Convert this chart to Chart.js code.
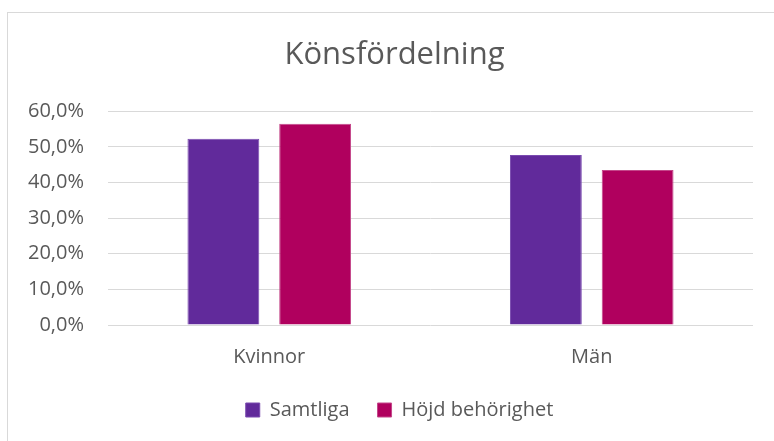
<!DOCTYPE html>
<html>
<head>
<meta charset="utf-8">
<script src="https://cdn.jsdelivr.net/npm/chart.js@4/dist/chart.umd.min.js"></script>
<style>
  html, body { margin: 0; padding: 0; background: #fff; }
  #wrap { position: relative; width: 774px; height: 441px; }
</style>
</head>
<body>
<div id="wrap"><canvas id="c" width="774" height="441"></canvas></div>
<script>
const categories = ['Kvinnor', 'Män'];
const seriesNames = ['Samtliga', 'Höjd behörighet'];
const samtliga = [52.3, 47.7];
const hojdBehorighet = [56.5, 43.5];
const yTicks = [0, 10, 20, 30, 40, 50, 60];
const titleText = 'Könsfördelning';

const FONT = "'Open Sans', 'Noto Sans', sans-serif";
const TEXT = '#595959';

const framePlugin = {
  id: 'frame',
  beforeDraw(chart) {
    const ctx = chart.ctx;
    ctx.save();
    ctx.fillStyle = '#fff';
    ctx.fillRect(0, 0, chart.width, chart.height);
    ctx.strokeStyle = '#d9d9d9';
    ctx.lineWidth = 1;
    ctx.strokeRect(7.5, 12.5, 900, 600);
    ctx.restore();
    // centre title and legend over the wider (partly off-image) chart frame
    if (chart.titleBlock) { chart.titleBlock.left = 36; chart.titleBlock.right = 753; }
    if (chart.legend) { chart.legend.left = 46; chart.legend.right = 753; }
  }
};

new Chart(document.getElementById('c'), {
  type: 'bar',
  data: {
    labels: categories,
    datasets: [
      { label: seriesNames[0], data: samtliga, backgroundColor: '#612a9b', borderColor: '#7a4bb0', borderWidth: 1 },
      { label: seriesNames[1], data: hojdBehorighet, backgroundColor: '#b0005e', borderColor: '#c4478a', borderWidth: 1 }
    ]
  },
  options: {
    responsive: false,
    animation: false,
    devicePixelRatio: 1,
    datasets: { bar: { categoryPercentage: 0.569, barPercentage: 0.783 } },
    layout: { padding: { left: 16, right: 21, top: 0, bottom: 11 } },
    plugins: {
      title: {
        display: true,
        text: titleText,
        color: TEXT,
        font: { family: FONT, size: 31, weight: 'normal', lineHeight: 1.2 },
        padding: { top: 37, bottom: 37 }
      },
      legend: {
        position: 'bottom',
        labels: {
          color: TEXT,
          font: { family: FONT, size: 20 },
          boxWidth: 14,
          boxHeight: 14,
          padding: 28
        }
      },
      tooltip: { enabled: false }
    },
    scales: {
      x: {
        grid: { display: false, drawTicks: false },
        border: { display: false },
        ticks: { color: TEXT, font: { family: FONT, size: 20 }, padding: 20 },
        afterFit(scale) { scale.height = 47; }
      },
      y: {
        min: 0,
        max: 60,
        afterBuildTicks(scale) { scale.ticks = yTicks.map(v => ({ value: v })); },
        grid: { color: '#d9d9d9', lineWidth: 1, drawTicks: false },
        border: { display: false },
        ticks: {
          color: TEXT,
          font: { family: FONT, size: 20 },
          padding: 24,
          callback: v => v.toFixed(1).replace('.', ',') + '%'
        },
        afterFit(scale) { scale.width = 92; }
      }
    }
  },
  plugins: [framePlugin]
});
</script>
</body>
</html>
